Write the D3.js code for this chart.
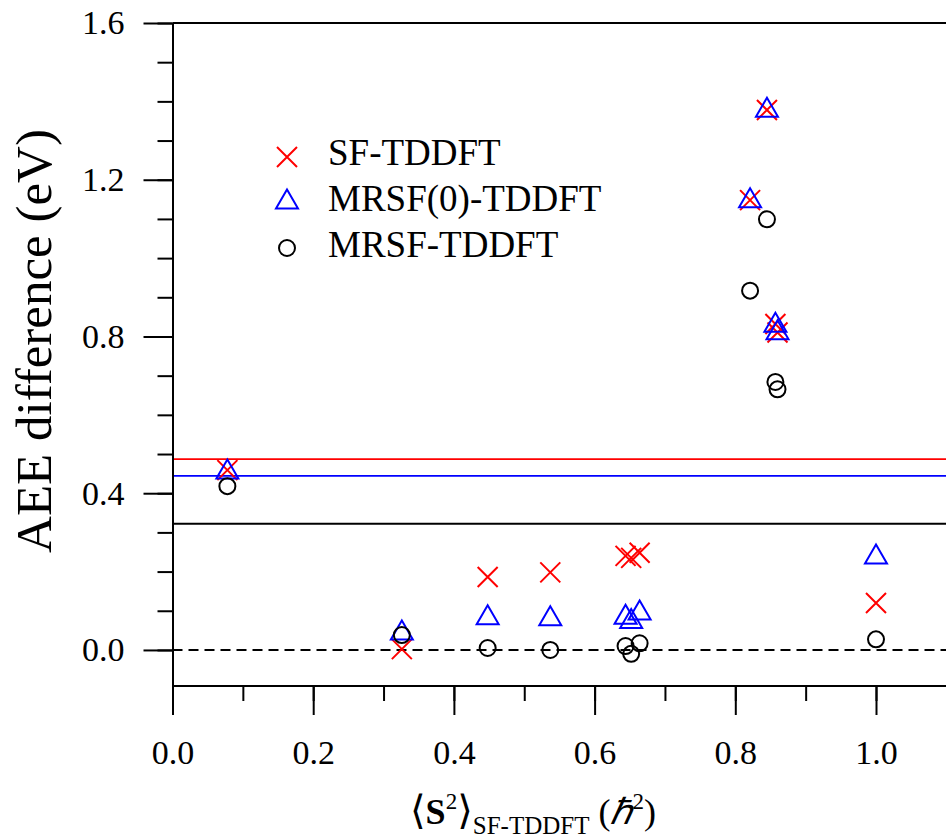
<!DOCTYPE html>
<html>
<head>
<meta charset="utf-8">
<script src="https://cdn.jsdelivr.net/npm/d3@7"></script>
<style>
  body { margin: 0; background: #fff; }
  svg { display: block; }
  text { font-family: "Liberation Serif", "Times New Roman", serif; }
</style>
</head>
<body>
<script>
// <S^2> of the SF-TDDFT reference state, one per system
var s2Values = [0.078, 0.326, 0.448, 0.537, 0.644, 0.652, 0.664, 0.821, 0.845, 0.857, 0.860, 1.000];
// AEE difference (eV)
var sfValues    = [0.459, 0.002, 0.186, 0.198, 0.240, 0.235, 0.248, 1.148, 1.378, 0.832, 0.810, 0.120];
var mrsf0Values = [0.462, 0.051, 0.090, 0.087, 0.091, 0.080, 0.102, 1.154, 1.385, 0.836, 0.817, 0.245];
var mrsfValues  = [0.418, 0.038, 0.005, 0.000, 0.010, -0.010, 0.017, 0.917, 1.099, 0.684, 0.665, 0.027];
// mean lines
var meanValues = [0.487, 0.444, 0.322];

var seriesNames = ['SF-TDDFT', 'MRSF(0)-TDDFT', 'MRSF-TDDFT'];
var seriesColors = ['#ff0000', '#0000ff', '#000000'];
var seriesShapes = ['cross', 'triangle', 'circle'];

var xTicks = [0, 0.1, 0.2, 0.3, 0.4, 0.5, 0.6, 0.7, 0.8, 0.9, 1.0];
var xLabels = [0, 0.2, 0.4, 0.6, 0.8, 1.0];
var yTicks = [0, 0.1, 0.2, 0.3, 0.4, 0.5, 0.6, 0.7, 0.8, 0.9, 1.0, 1.1, 1.2, 1.3, 1.4, 1.5, 1.6];
var yLabels = [0, 0.4, 0.8, 1.2, 1.6];

var W = 946, H = 838;
var plotLeft = 172.5, plotRight = 946, plotTop = 23, plotBottom = 686;

var x = d3.scaleLinear().domain([0, 1.1]).range([plotLeft, plotLeft + 703.5 * 1.1]);
var y = d3.scaleLinear().domain([-0.092, 1.6]).range([plotBottom, plotTop]);

var svg = d3.select('body')
  .append('svg')
  .attr('width', W)
  .attr('height', H);

// markers
function drawMarker(g, shape, color) {
  if (shape === 'cross') {
    g.append('path')
      .attr('d', 'M-10,-10L10,10M-10,10L10,-10')
      .attr('stroke', color).attr('stroke-width', 2).attr('fill', 'none');
  } else if (shape === 'triangle') {
    g.append('path')
      .attr('d', 'M0,-9.5L11,9.5L-11,9.5Z')
      .attr('stroke', color).attr('stroke-width', 2).attr('fill', 'none');
  } else {
    g.append('circle')
      .attr('r', 8)
      .attr('stroke', color).attr('stroke-width', 2).attr('fill', 'none');
  }
}

// reference lines
var lineGroup = svg.append('g').attr('class', 'lines');
lineGroup.append('line')
  .attr('x1', plotLeft).attr('x2', plotRight)
  .attr('y1', y(0)).attr('y2', y(0))
  .attr('stroke', '#000').attr('stroke-width', 2)
  .attr('stroke-dasharray', '10,6');

lineGroup.selectAll('line.mean')
  .data(meanValues)
  .enter().append('line')
  .attr('class', 'mean')
  .attr('x1', plotLeft).attr('x2', plotRight)
  .attr('y1', function(d) { return y(d); })
  .attr('y2', function(d) { return y(d); })
  .attr('stroke', function(d, i) { return seriesColors[i]; })
  .attr('stroke-width', function(d, i) { return i === 2 ? 2 : 1.8; });

// axes
var yMinor = d3.axisLeft(y).tickValues(yTicks).tickSize(15).tickSizeOuter(0).tickFormat('');
var yMajor = d3.axisLeft(y).tickValues(yLabels).tickSize(29).tickSizeOuter(0).tickPadding(19).tickFormat(d3.format('.1f'));
var xMinor = d3.axisBottom(x).tickValues(xTicks).tickSize(15).tickSizeOuter(0).tickFormat('');
var xMajor = d3.axisBottom(x).tickValues(xLabels).tickSize(29).tickSizeOuter(0).tickPadding(25).tickFormat(d3.format('.1f'));

function styleAxis(g) {
  g.selectAll('path, line').attr('stroke', '#000').attr('stroke-width', 2);
  g.selectAll('text').attr('fill', '#000').style('font-size', '34px')
    .style('font-family', '"Liberation Serif", "Times New Roman", serif');
}

svg.append('g').attr('transform', 'translate(' + plotLeft + ',0)').call(yMinor).call(styleAxis);
svg.append('g').attr('transform', 'translate(' + plotLeft + ',0)').call(yMajor).call(styleAxis);
svg.append('g').attr('transform', 'translate(0,' + plotBottom + ')').call(xMinor).call(styleAxis)
  .select('.domain').attr('d', 'M' + plotLeft + ',0H' + plotRight);
svg.append('g').attr('transform', 'translate(0,' + plotBottom + ')').call(xMajor).call(styleAxis)
  .select('.domain').attr('d', 'M' + plotLeft + ',0H' + plotRight);

// top frame
svg.append('line')
  .attr('x1', plotLeft).attr('x2', plotRight)
  .attr('y1', plotTop).attr('y2', plotTop)
  .attr('stroke', '#000').attr('stroke-width', 2);

// data points
var allSeries = [sfValues, mrsf0Values, mrsfValues];
allSeries.forEach(function(vals, si) {
  var pts = vals.map(function(v, i) { return { x: s2Values[i], y: v }; });
  svg.append('g').attr('class', 'series-' + si)
    .selectAll('g.pt')
    .data(pts)
    .enter().append('g')
    .attr('class', 'pt')
    .attr('transform', function(d) { return 'translate(' + x(d.x) + ',' + y(d.y) + ')'; })
    .each(function() { drawMarker(d3.select(this), seriesShapes[si], seriesColors[si]); });
});

// legend
var legendY = [157, 199, 248];
var legendBase = [165, 211, 257];
var legend = svg.append('g').attr('class', 'legend');
seriesNames.forEach(function(name, i) {
  var m = legend.append('g').attr('transform', 'translate(287,' + legendY[i] + ')');
  drawMarker(m, seriesShapes[i], seriesColors[i]);
  legend.append('text')
    .attr('x', 328).attr('y', legendBase[i])
    .style('font-size', '37px')
    .text(name);
});

// y title
svg.append('text')
  .attr('transform', 'translate(51,341) rotate(-90)')
  .attr('text-anchor', 'middle')
  .style('font-size', '51px')
  .text('AEE difference (eV)');

// x title
var xt = svg.append('text')
  .attr('x', 410).attr('y', 824)
  .style('font-size', '36px');
xt.append('tspan').style('font-family', '"DejaVu Serif", serif').style('font-size', '40px').style('font-weight', 200).text('\u27E8');
xt.append('tspan').style('font-weight', 'bold').text('S');
xt.append('tspan').attr('dy', -15).style('font-size', '23px').text('2');
xt.append('tspan').attr('dy', 15).style('font-family', '"DejaVu Serif", serif').style('font-size', '40px').text('\u27E9');
xt.append('tspan').attr('dy', 10).style('font-size', '25px').text('SF-TDDFT');
xt.append('tspan').attr('dy', -10).text('\u00A0(');
xt.append('tspan').style('font-style', 'italic').text('\u210F');
xt.append('tspan').attr('dy', -15).style('font-size', '23px').text('2');
xt.append('tspan').attr('dy', 15).text(')');
</script>
</body>
</html>
